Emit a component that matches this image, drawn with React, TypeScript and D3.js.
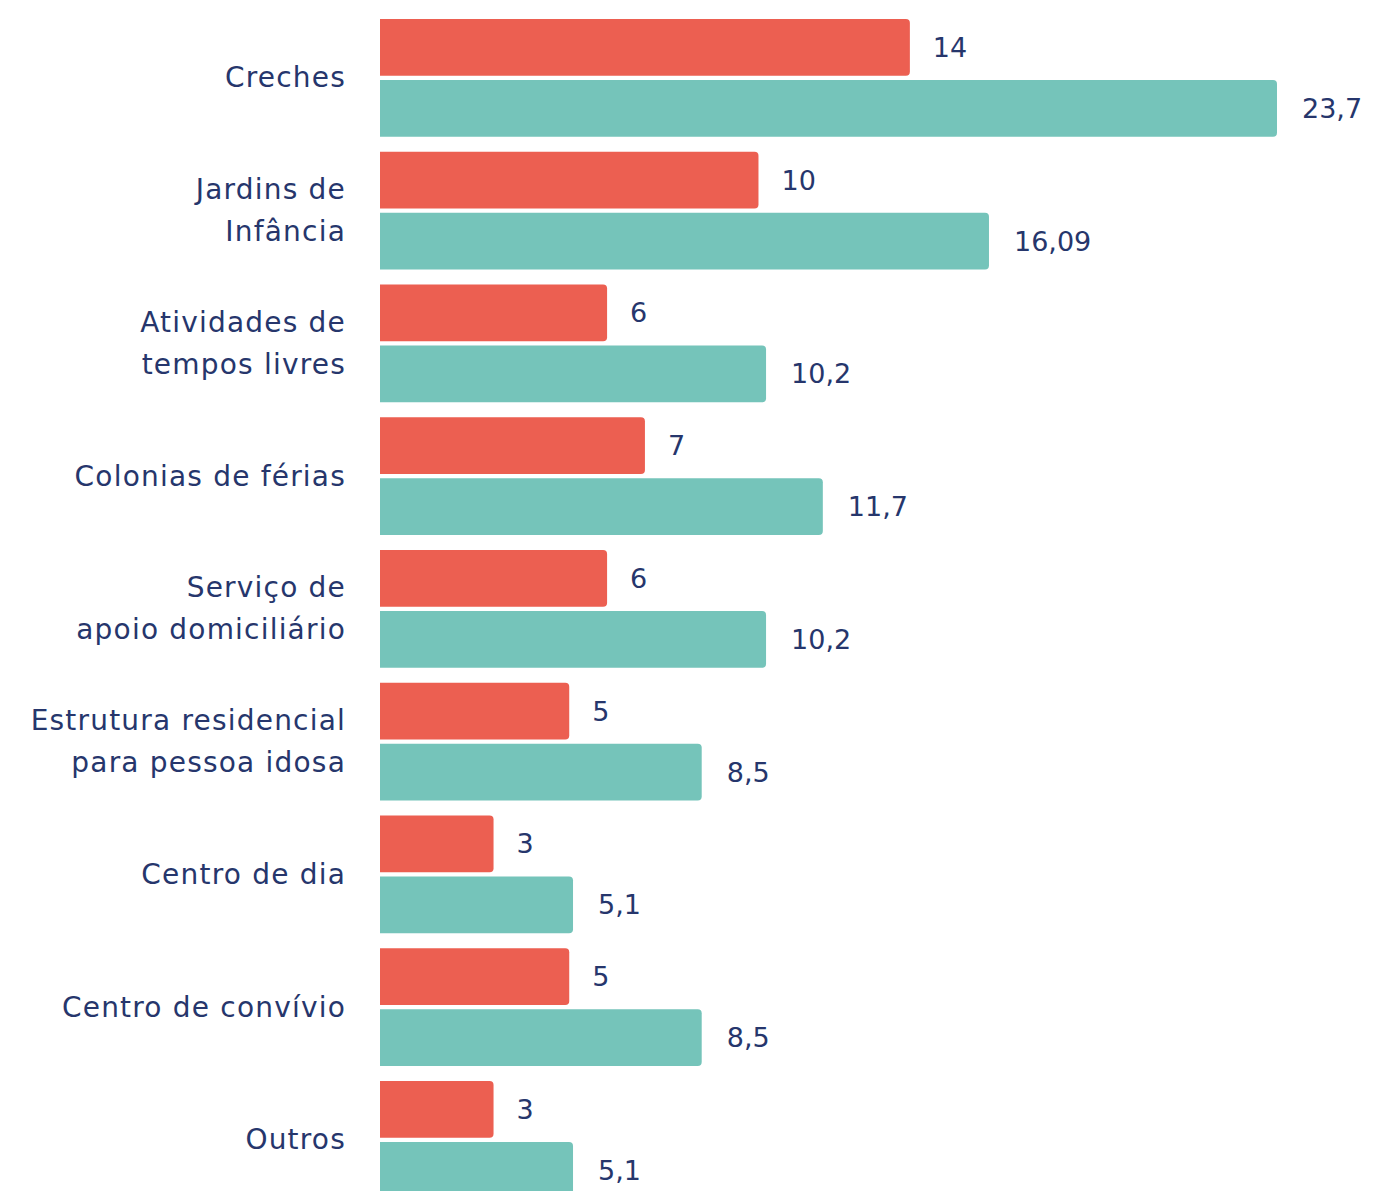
import { useEffect } from 'react';
import * as d3 from 'd3';

const categories = [
  'Creches',
  'Jardins de\nInfância',
  'Atividades de\ntempos livres',
  'Colonias de férias',
  'Serviço de\napoio domiciliário',
  'Estrutura residencial\npara pessoa idosa',
  'Centro de dia',
  'Centro de convívio',
  'Outros',
];
const seriesKeys = ['a', 'b'];
const seriesA = [14, 10, 6, 7, 6, 5, 3, 5, 3];
const seriesB = [23.7, 16.09, 10.2, 11.7, 10.2, 8.5, 5.1, 8.5, 5.1];

const WIDTH = 1376;
const HEIGHT = 1191;
const COLORS: Record<string, string> = { a: '#EC5F51', b: '#75C4BA' };
const TEXT = '#26366C';
const FONT = '"DejaVu Sans", sans-serif';

// bar with square left side and rounded right side
function barPath(x0: number, x1: number, y: number, h: number, r: number) {
  const rr = Math.min(r, (x1 - x0) / 2, h / 2);
  return `M${x0},${y}H${x1 - rr}Q${x1},${y} ${x1},${y + rr}V${y + h - rr}Q${x1},${y + h} ${x1 - rr},${y + h}H${x0}Z`;
}

export default function App() {
  useEffect(() => {
    document.body.style.margin = '0';
  }, []);

  const x = d3.scaleLinear().domain([0, 23.7]).range([380, 1277]);
  const y = d3
    .scaleBand<string>()
    .domain(categories)
    .range([19, 1198.75])
    .paddingInner(0.113)
    .paddingOuter(0);
  const sub = d3
    .scaleBand<string>()
    .domain(seriesKeys)
    .range([0, y.bandwidth()])
    .paddingInner(0.066);

  const fmt = (v: number) => String(v).replace('.', ',');

  return (
    <svg width={WIDTH} height={HEIGHT} style={{ display: 'block', background: '#fff' }}>
      {categories.map((cat, i) => {
        const y0 = y(cat) ?? 0;
        const lines = cat.split('\n');
        const cy = y0 + y.bandwidth() / 2;
        const lh = 42;
        return (
          <g key={cat}>
            <text
              textAnchor="end"
              fontFamily={FONT}
              fontSize={28}
              letterSpacing={1.2}
              fill={TEXT}
            >
              {lines.map((ln, j) => (
                <tspan
                  key={j}
                  x={346}
                  y={cy + (j - (lines.length - 1) / 2) * lh}
                  dominantBaseline="central"
                >
                  {ln}
                </tspan>
              ))}
            </text>
            {seriesKeys.map((k) => {
              const v = k === 'a' ? seriesA[i] : seriesB[i];
              const by = y0 + (sub(k) ?? 0);
              const bh = sub.bandwidth();
              return (
                <g key={k}>
                  <path
                    d={barPath(x(0), x(v), by, bh, 4)}
                    fill={COLORS[k]}
                  />
                  <text
                    x={x(v) + (k === 'a' ? 23 : 25)}
                    y={by + bh / 2}
                    dominantBaseline="central"
                    fontFamily={FONT}
                    fontSize={27}
                    fill={TEXT}
                  >
                    {fmt(v)}
                  </text>
                </g>
              );
            })}
          </g>
        );
      })}
    </svg>
  );
}
